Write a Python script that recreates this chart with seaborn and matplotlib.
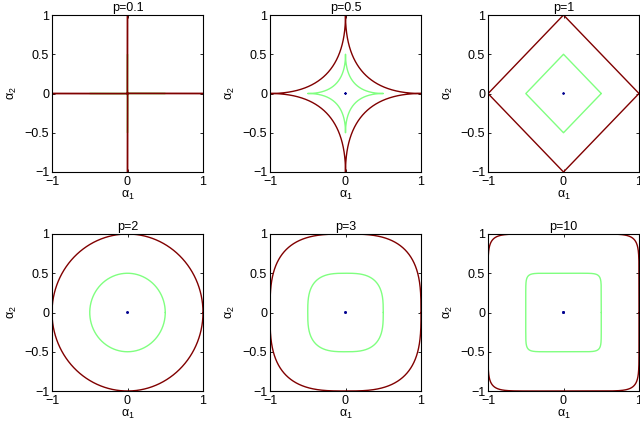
import numpy as np
import pandas as pd
import matplotlib
matplotlib.use('Agg')
import matplotlib.pyplot as plt
import seaborn as sns

# p values of the norms and the contour levels (jet colours)
p_values = [0.1, 0.5, 1, 2, 3, 10]
titles = ['p=0.1', 'p=0.5', 'p=1', 'p=2', 'p=3', 'p=10']
levels = [0.01, 0.5, 1.0]
level_colors = ['#00008f', '#80ff80', '#800000']
xticks = [-1, 0, 1]
xtick_labels = ['\u22121', '0', '1']
yticks = [-1, -0.5, 0, 0.5, 1]
ytick_labels = ['\u22121', '\u22120.5', '0', '0.5', '1']

sns.set_style('ticks')
plt.rcParams['font.family'] = ['Liberation Sans', 'DejaVu Sans']
plt.rcParams['mathtext.fontset'] = 'custom'
plt.rcParams['mathtext.rm'] = 'Liberation Sans'
plt.rcParams['mathtext.it'] = 'Liberation Sans'
plt.rcParams['text.color'] = 'black'
plt.rcParams['axes.labelcolor'] = 'black'

fig = plt.figure(figsize=(6.4, 4.22), dpi=100)
W, H = 640.0, 422.0
cols = [(52, 203), (270, 421), (488, 639)]
rows = [(15, 172), (234, 391)]

t = np.linspace(0, 2 * np.pi, 4001)
for i, p in enumerate(p_values):
    r, c = divmod(i, 3)
    x0, x1 = cols[c]
    y0, y1 = rows[r]
    ax = fig.add_axes([x0 / W, 1 - y1 / H, (x1 - x0) / W, (y1 - y0) / H])
    frames = []
    for lev in levels:
        cx, sy = np.cos(t), np.sin(t)
        frames.append(pd.DataFrame({
            'x': lev * np.sign(cx) * np.abs(cx) ** (2.0 / p),
            'y': lev * np.sign(sy) * np.abs(sy) ** (2.0 / p),
            'level': lev,
        }))
    df = pd.concat(frames, ignore_index=True)
    sns.lineplot(data=df, x='x', y='y', hue='level', palette=level_colors,
                 hue_order=levels, sort=False, estimator=None, legend=False,
                 linewidth=1.0, ax=ax)
    ax.set_xlim(-1, 1)
    ax.set_ylim(-1, 1)
    ax.set_xticks(xticks)
    ax.set_xticklabels(xtick_labels, fontsize=9)
    ax.set_yticks(yticks)
    ax.set_yticklabels(ytick_labels, fontsize=9)
    ax.tick_params(direction='in', length=2, width=0.6, top=True, right=True,
                   pad=2, colors='black', labelcolor='black')
    ax.tick_params(axis='x', pad=3)
    for s in ax.spines.values():
        s.set_linewidth(0.8)
        s.set_color('black')
    ax.set_xlabel(r'$\alpha_1$', fontsize=9, labelpad=0.5)
    ax.set_ylabel(r'$\alpha_2$', fontsize=9, labelpad=4)
    ax.set_title(titles[i], fontsize=9, pad=3, color='black')

fig.savefig('out.png', dpi=100)
